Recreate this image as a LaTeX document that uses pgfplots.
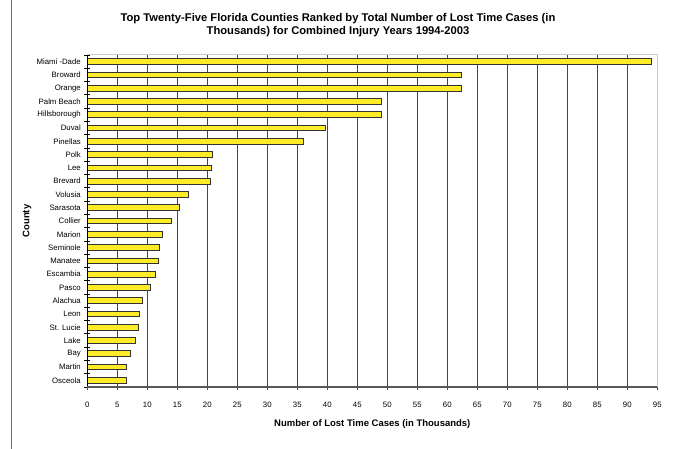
\documentclass[border=0pt]{standalone}
\usepackage{fontspec}
\setmainfont{Liberation Sans}
\usepackage{pgfplots}
\usepackage{pgfplotstable}
\pgfplotsset{compat=1.18}
\definecolor{baryellow}{RGB}{255,236,40}
\definecolor{gridgray}{RGB}{70,70,70}

\pgfplotstableread[col sep=comma]{
county,cases
Miami -Dade,94.0
Broward,62.4
Orange,62.4
Palm Beach,49.1
Hillsborough,49.0
Duval,39.7
Pinellas,36.1
Polk,20.9
Lee,20.7
Brevard,20.6
Volusia,16.9
Sarasota,15.3
Collier,14.1
Marion,12.45
Seminole,12.0
Manatee,11.8
Escambia,11.3
Pasco,10.6
Alachua,9.2
Leon,8.7
St. Lucie,8.55
Lake,7.95
Bay,7.2
Martin,6.6
Osceola,6.5
}\countydata

\begin{document}
\begin{tikzpicture}[x=1pt,y=1pt]
\path[use as bounding box] (0,0) rectangle (678,449);
\draw[gray!85!black, line width=1.3pt] (11.5,0) -- (11.5,449);
\node[align=center, font=\fontsize{11.2}{13}\selectfont\bfseries] at (338,423.5)
  {Top Twenty-Five Florida Counties Ranked by Total Number of Lost Time Cases (in\\Thousands) for Combined Injury Years 1994-2003};
\begin{axis}[
  at={(87.3pt,62pt)}, anchor=south west,
  scale only axis, width=570pt, height=332pt,
  xbar, bar width=5.7pt,
  xmin=0, xmax=95, xtick distance=5,
  ymin=-0.5, ymax=24.5, y dir=reverse,
  ytick={0,...,24},
  yticklabels from table={\countydata}{county},
  minor ytick={-0.5,0.5,...,24.5},
  xtick pos=bottom, ytick pos=left,
  tick align=center,
  major x tick style={draw=gridgray, line width=0.9pt},
  major tick length=6pt,
  y tick style={draw=black, line width=0.8pt},
  major y tick style={draw=none},
  minor tick length=6pt,
  xmajorgrids,
  major x grid style={draw=gridgray, line width=0.9pt},
  axis line style={draw=gray!40, line width=1pt},
  /pgf/number format/assume math mode=true,
  ticklabel style={font=\fontsize{7.8}{9}\selectfont},
  xticklabel style={yshift=-8.5pt},
  yticklabel style={xshift=0pt},
  xlabel={Number of Lost Time Cases (in Thousands)},
  ylabel={County},
  label style={font=\fontsize{9.5}{11}\selectfont\bfseries},
  xlabel style={at={(axis description cs:0.5,0)}, anchor=center, yshift=-37.5pt},
  ylabel style={at={(axis description cs:-0.1058,0.5)}, anchor=center},
  clip=false,
]
\addplot[fill=baryellow, draw=black!80, line width=0.9pt]
  table[x=cases, y expr=\coordindex] {\countydata};
\draw[black, line width=1pt] (rel axis cs:0,0) -- (rel axis cs:0,1);
\draw[gray!70!black, line width=1.5pt] (rel axis cs:0,0) -- (rel axis cs:1,0);
\end{axis}
\end{tikzpicture}
\end{document}
